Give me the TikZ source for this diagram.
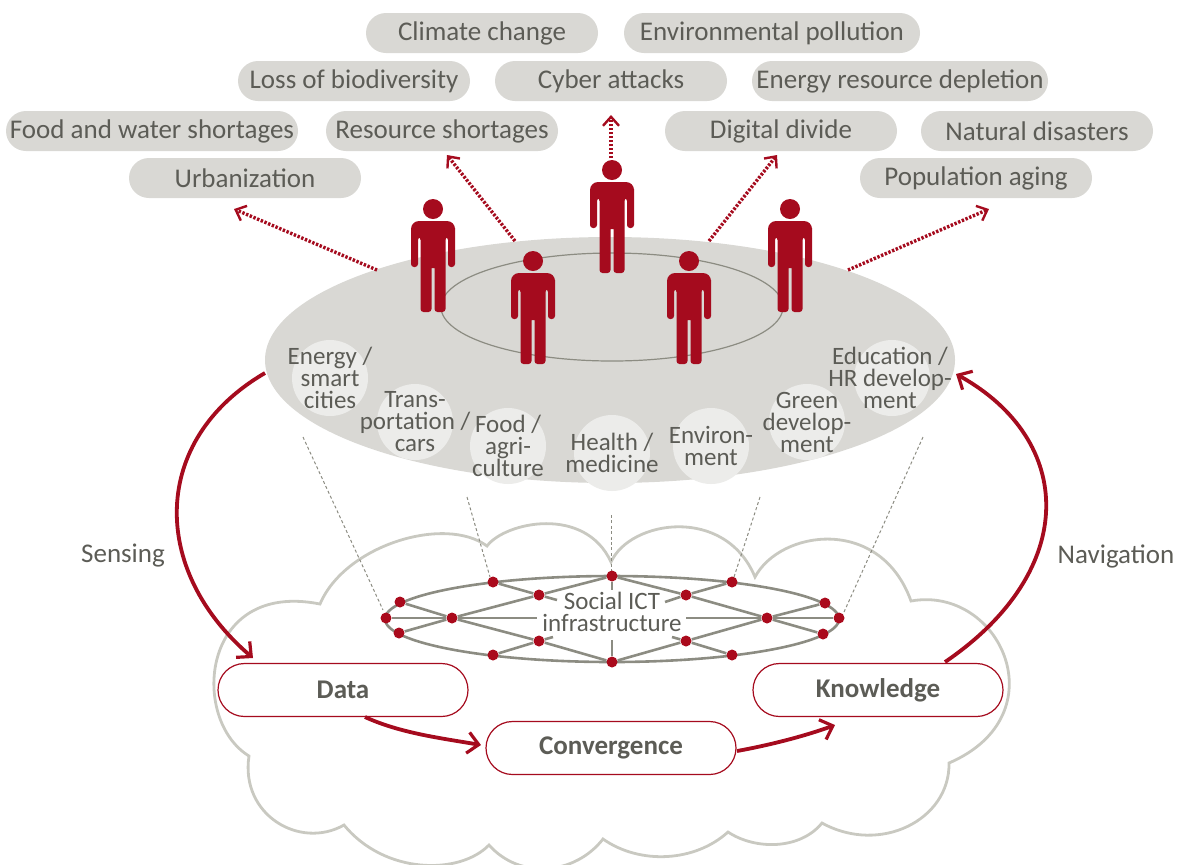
\documentclass[tikz,border=0pt]{standalone}
\usepackage{fontspec}
\setmainfont{Carlito}
\usetikzlibrary{arrows.meta,shapes.geometric,shapes.misc}

\definecolor{fjred}{HTML}{A50B1E}
\definecolor{fjgrey}{HTML}{D9D8D4}
\definecolor{fjspot}{HTML}{ECECEA}
\definecolor{fjtext}{HTML}{5C5C56}
\definecolor{fjnet}{HTML}{8C8C82}
\definecolor{fjcloud}{HTML}{C9C9C1}

\tikzset{
  issue/.style={rounded rectangle,fill=fjgrey,minimum width=116pt,minimum height=20pt,inner sep=0pt,
    text=fjtext,font=\fontsize{13.5}{14}\selectfont},
  spot/.style={circle,fill=fjspot,minimum size=38pt,inner sep=0pt},
  spottext/.style={align=center,inner sep=0pt,text=fjtext,font=\fontsize{12.5}{11}\selectfont},
  stagebox/.style={rounded rectangle,draw=fjred,fill=white,line width=0.6pt,minimum width=125pt,minimum height=26.5pt,
    inner sep=0pt,text=fjtext,font=\fontsize{13.5}{14}\selectfont\bfseries},
  flow/.style={draw=fjred,line width=1.9pt,-{Straight Barb[length=5.5pt,width=10.5pt,line width=1.6pt]}},
  impact/.style={draw=fjred,line width=1.7pt,dash pattern=on 1.2pt off 0.8pt,
    -{Straight Barb[length=4.5pt,width=8pt,line width=1.2pt,sep=0pt]}},
  leader/.style={draw=fjnet,line width=0.5pt,dash pattern=on 1.5pt off 1.2pt},
  netline/.style={draw=fjnet,line width=1.3pt},
  netdot/.style={circle,fill=fjred!95!red,minimum size=5.5pt,inner sep=0pt},
  flowlabel/.style={inner sep=0pt,text=fjtext,font=\fontsize{13.5}{14}\selectfont},
  pics/person/.style={code={
    \fill[fjred] (0,0) circle (10);
    \fill[fjred,rounded corners=1.5pt] (-22,58) -- (-22,22) [rounded corners=4pt] -- (-22,12) -- (22,12)
      [rounded corners=1.5pt] -- (22,22) -- (22,58) -- (15,58) -- (15,28) -- (12.5,28) -- (12.5,103) -- (1.5,103)
      [sharp corners] -- (1.5,59) -- (-1.5,59) [rounded corners=1.5pt] -- (-1.5,103) -- (-12.5,103) -- (-12.5,28)
      -- (-15,28) -- (-15,58) -- cycle;
  }}
}

\begin{document}
\begin{tikzpicture}[x=0.5pt,y=-0.5pt]
\useasboundingbox (0,0) rectangle (1181,864);

% cloud
\draw[fjcloud,line width=1.4pt,line join=miter]
  (320,604) .. controls (345,545) and (445,515) .. (487,546)
  .. controls (505,522) and (585,505) .. (611,562)
  .. controls (630,520) and (725,505) .. (755,577)
  .. controls (780,530) and (880,515) .. (911,601)
  .. controls (1000,585) and (1060,715) .. (949,763)
  .. controls (950,820) and (880,855) .. (822,823)
  .. controls (800,850) and (755,850) .. (728,832)
  .. controls (695,862) and (640,865) .. (603,839)
  .. controls (575,875) and (520,880) .. (489,845)
  .. controls (460,875) and (385,875) .. (344,825)
  .. controls (300,850) and (240,815) .. (249,756)
  .. controls (190,720) and (200,580) .. (320,604) -- cycle;

% issues
\node[issue] (climate) at (482,33) {Climate change};
\node[issue,minimum width=148pt] (pollution) at (772,33) {Environmental pollution};
\node[issue] (biodiversity) at (354,81) {Loss of biodiversity};
\node[issue] (cyber) at (611,81) {Cyber attacks};
\node[issue,minimum width=148pt] (depletion) at (900,81) {Energy resource depletion};
\node[issue,minimum width=146pt] (food) at (152,131) {Food and water shortages};
\node[issue] (resource) at (442,131) {Resource shortages};
\node[issue] (divide) at (781,131) {Digital divide};
\node[issue] (disasters) at (1037,131) {Natural disasters};
\node[issue] (urban) at (245,178) {Urbanization};
\node[issue] (aging) at (976,178) {Population aging};

% leaders to the network
\coordinate (hubA) at (303,437);
\coordinate (hubB) at (467,497);
\coordinate (hubC) at (611,515);
\coordinate (hubD) at (760,497);
\coordinate (hubE) at (923,437);
\coordinate (netA) at (383,610);
\coordinate (netB) at (490,577);
\coordinate (netC) at (611,572);
\coordinate (netD) at (734,577);
\coordinate (netE) at (844,612);
\draw[leader] (hubA) -- (netA);
\draw[leader] (hubB) -- (netB);
\draw[leader] (hubC) -- (netC);
\draw[leader] (hubD) -- (netD);
\draw[leader] (hubE) -- (netE);

% society
\node[ellipse,fill=fjgrey,minimum width=345pt,minimum height=123pt,inner sep=0pt] (hub) at (610,360) {};
\draw[fjnet,line width=0.6pt] (612,307) ellipse (171 and 54);

\node[spot] (energy) at (330,378) {};
\node[spot] (transport) at (415,422) {};
\node[spot] (agri) at (508,446) {};
\node[spot] (health) at (612,453) {};
\node[spot] (environ) at (711,446) {};
\node[spot] (green) at (807,422) {};
\node[spot] (education) at (892,378) {};
\node[spottext] (energyText) at (energy) {Energy /\\smart\\cities};
\node[spottext] (transportText) at (transport) {Trans-\\portation /\\cars};
\node[spottext] (agriText) at (agri) {Food /\\agri-\\culture};
\node[spottext] (healthText) at (health) {Health /\\medicine};
\node[spottext] (environText) at (environ) {Environ-\\ment};
\node[spottext] (greenText) at (green) {Green\\develop-\\ment};
\node[spottext] (educationText) at (890,378) {Education /\\HR develop-\\ment};

\pic at (433,209) {person};
\pic at (790,209) {person};
\pic at (612,170) {person};
\pic at (533,261) {person};
\pic at (689,261) {person};

% impacts
\coordinate (urbanFoot) at (377,270);
\coordinate (urbanTip) at (234,209);
\coordinate (resourceFoot) at (515,241);
\coordinate (resourceTip) at (447,155);
\coordinate (cyberFoot) at (611,158);
\coordinate (cyberTip) at (611,115);
\coordinate (divideFoot) at (709,241);
\coordinate (divideTip) at (777,155);
\coordinate (agingFoot) at (848,270);
\coordinate (agingTip) at (989,209);
\draw[impact] (urbanFoot) -- (urbanTip);
\draw[impact] (resourceFoot) -- (resourceTip);
\draw[impact] (cyberFoot) -- (cyberTip);
\draw[impact] (divideFoot) -- (divideTip);
\draw[impact] (agingFoot) -- (agingTip);

% network
\draw[netline] (612,619) ellipse (227 and 43);
\node[netdot] (westTip) at (386,618) {};
\node[netdot] (westUp) at (400,602) {};
\node[netdot] (westLow) at (399,633) {};
\node[netdot] (westHub) at (452,618) {};
\node[netdot] (nwRim) at (493,582) {};
\node[netdot] (swRim) at (493,655) {};
\node[netdot] (nwIn) at (539,595) {};
\node[netdot] (swIn) at (539,641) {};
\node[netdot] (topDot) at (612,576) {};
\node[netdot] (botDot) at (612,662) {};
\node[netdot] (neIn) at (686,595) {};
\node[netdot] (seIn) at (686,641) {};
\node[netdot] (neRim) at (732,582) {};
\node[netdot] (seRim) at (732,655) {};
\node[netdot] (eastHub) at (767,618) {};
\node[netdot] (eastUp) at (825,603) {};
\node[netdot] (eastLow) at (823,634) {};
\node[netdot] (eastTip) at (839,618) {};
\coordinate (gapW) at (537,618);
\coordinate (gapE) at (686,618);
\coordinate (gapNW) at (557,600);
\coordinate (gapSW) at (553,637);
\coordinate (gapNE) at (665,602);
\coordinate (gapSE) at (672,637);
\coordinate (gapN) at (612,590);
\coordinate (gapS) at (612,640);
\draw[netline] (westTip) -- (westHub) -- (gapW);
\draw[netline] (gapE) -- (eastHub) -- (eastTip);
\draw[netline] (westUp) -- (westHub) -- (swIn) -- (botDot);
\draw[netline] (westLow) -- (westHub) -- (nwIn) -- (topDot);
\draw[netline] (topDot) -- (neIn) -- (eastHub) -- (eastLow);
\draw[netline] (botDot) -- (seIn) -- (eastHub) -- (eastUp);
\draw[netline] (nwRim) -- (nwIn) -- (gapNW);
\draw[netline] (swRim) -- (swIn) -- (gapSW);
\draw[netline] (neRim) -- (neIn) -- (gapNE);
\draw[netline] (seRim) -- (seIn) -- (gapSE);
\draw[netline] (topDot) -- (gapN);
\draw[netline] (botDot) -- (gapS);
\node[spottext,font=\fontsize{12.5}{11}\selectfont] (ict) at (612,612) {Social ICT\\infrastructure};

% stages
\node[stagebox] (data) at (343,690) {Data};
\node[stagebox] (convergence) at (611,748) {Convergence};
\node[stagebox] (knowledge) at (878,690) {Knowledge};
\node[flowlabel] (sensing) at (123,556) {Sensing};
\node[flowlabel] (navigation) at (1116,556) {Navigation};

\coordinate (sensingStart) at (265,373);
\coordinate (sensingEnd) at (253,658);
\coordinate (navStart) at (945,662);
\coordinate (navEnd) at (956,374);
\coordinate (dataStart) at (365,717);
\coordinate (convEnd) at (481,745);
\coordinate (convStart) at (737,751);
\coordinate (knowEnd) at (835,725);
\draw[flow] (sensingStart) .. controls (150,440) and (150,570) .. (sensingEnd);
\draw[flow] (navStart) .. controls (1080,570) and (1075,440) .. (navEnd);
\draw[flow] (dataStart) .. controls (400,733) and (440,738) .. (convEnd);
\draw[flow] (convStart) .. controls (770,745) and (805,736) .. (knowEnd);
\end{tikzpicture}
\end{document}
